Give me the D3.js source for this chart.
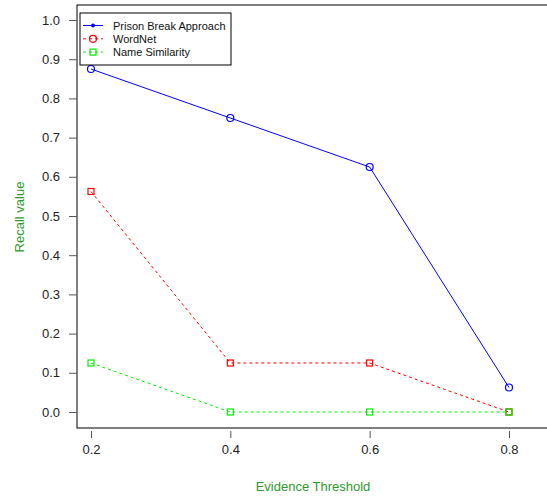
<!DOCTYPE html>
<html>
<head>
<meta charset="utf-8">
<script src="https://cdn.jsdelivr.net/npm/d3@7"></script>
<style>
  body { margin: 0; background: #fff; }
  text { font-family: "Liberation Sans", Arial, sans-serif; }
</style>
</head>
<body>
<div class="container"></div>
<script>
const thresholds = [0.2, 0.4, 0.6, 0.8];
const prisonBreak = [0.875, 0.75, 0.625, 0.0625];
const wordNet = [0.5625, 0.125, 0.125, 0];
const nameSimilarity = [0.125, 0, 0, 0];
const yTicks = [0, 0.1, 0.2, 0.3, 0.4, 0.5, 0.6, 0.7, 0.8, 0.9, 1.0];
const xTicks = [0.2, 0.4, 0.6, 0.8];

const w = 547;
const h = 497;

const box = { left: 77, top: 5, right: 549, bottom: 428 };

const x = d3.scaleLinear().domain([0.2, 0.8]).range([91, 509]);
const y = d3.scaleLinear().domain([0, 1]).range([412, 20]);

const svg = d3.select('.container')
    .append('svg')
    .attr('width', w)
    .attr('height', h);

// plot box
svg.append('rect')
    .attr('x', box.left)
    .attr('y', box.top)
    .attr('width', box.right - box.left)
    .attr('height', box.bottom - box.top)
    .attr('fill', 'none')
    .attr('stroke', '#000')
    .attr('stroke-width', 1);

// y axis (ticks only, no domain line)
svg.append('g')
    .attr('transform', `translate(${box.left},0)`)
    .call(d3.axisLeft(y).tickValues(yTicks).tickFormat(d3.format('.1f')).tickSize(8).tickPadding(9))
    .call(g => g.select('.domain').remove())
    .call(g => g.selectAll('.tick line').attr('stroke', '#555'))
    .call(g => g.selectAll('.tick text').attr('font-size', 13).attr('fill', '#222')
        .attr('font-family', '"Liberation Sans", Arial, sans-serif'));

// x axis, offset below the box
svg.append('g')
    .attr('transform', `translate(0,${box.bottom + 3})`)
    .call(d3.axisBottom(x).tickValues(xTicks).tickFormat(d3.format('.1f')).tickSize(7).tickPadding(7))
    .call(g => g.select('.domain').remove())
    .call(g => g.selectAll('.tick line').attr('stroke', '#555'))
    .call(g => g.selectAll('.tick text').attr('font-size', 13).attr('fill', '#222')
        .attr('font-family', '"Liberation Sans", Arial, sans-serif'));

// axis titles
svg.append('text')
    .attr('x', 313)
    .attr('y', 491)
    .attr('text-anchor', 'middle')
    .attr('font-size', 13)
    .attr('fill', '#2e9a2e')
    .text('Evidence Threshold');

svg.append('text')
    .attr('transform', `translate(24,217) rotate(-90)`)
    .attr('text-anchor', 'middle')
    .attr('font-size', 13)
    .attr('fill', '#2e9a2e')
    .text('Recall value');

const series = [
    { name: 'Prison Break Approach', values: prisonBreak, color: '#0000ff', dash: null, shape: 'circle', legendShape: 'dot' },
    { name: 'WordNet', values: wordNet, color: '#ff0000', dash: '3,3', shape: 'square', legendShape: 'circle' },
    { name: 'Name Similarity', values: nameSimilarity, color: '#00ee00', dash: '3,3', shape: 'square', legendShape: 'square' }
];

const line = d3.line()
    .x((d, i) => x(thresholds[i]))
    .y(d => y(d));

function drawMarker(g, shape, cx, cy, color) {
    if (shape === 'circle') {
        g.append('circle').attr('cx', cx).attr('cy', cy).attr('r', 3.5)
            .attr('fill', 'none').attr('stroke', color).attr('stroke-width', 1.2);
    } else if (shape === 'square') {
        g.append('rect').attr('x', cx - 3).attr('y', cy - 3).attr('width', 6).attr('height', 6)
            .attr('fill', 'none').attr('stroke', color).attr('stroke-width', 1.2);
    } else {
        g.append('circle').attr('cx', cx).attr('cy', cy).attr('r', 2)
            .attr('fill', color).attr('stroke', 'none');
    }
}

series.forEach(s => {
    const g = svg.append('g');
    g.append('path')
        .datum(s.values)
        .attr('d', line)
        .attr('fill', 'none')
        .attr('stroke', s.color)
        .attr('stroke-width', 1)
        .attr('stroke-dasharray', s.dash);
    s.values.forEach((v, i) => drawMarker(g, s.shape, x(thresholds[i]), y(v), s.color));
});

// legend
const legend = svg.append('g');
legend.append('rect')
    .attr('x', 80)
    .attr('y', 13)
    .attr('width', 151)
    .attr('height', 52)
    .attr('fill', '#fff')
    .attr('stroke', '#000')
    .attr('stroke-width', 1);

series.forEach((s, i) => {
    const ly = 25.5 + i * 13.3;
    legend.append('line')
        .attr('x1', 83).attr('x2', 103)
        .attr('y1', ly).attr('y2', ly)
        .attr('stroke', s.color)
        .attr('stroke-dasharray', s.dash);
    drawMarker(legend, s.legendShape, 93, ly, s.color);
    legend.append('text')
        .attr('x', 113)
        .attr('y', ly + 4)
        .attr('font-size', 11)
        .attr('fill', '#111')
        .text(s.name);
});
</script>
</body>
</html>
